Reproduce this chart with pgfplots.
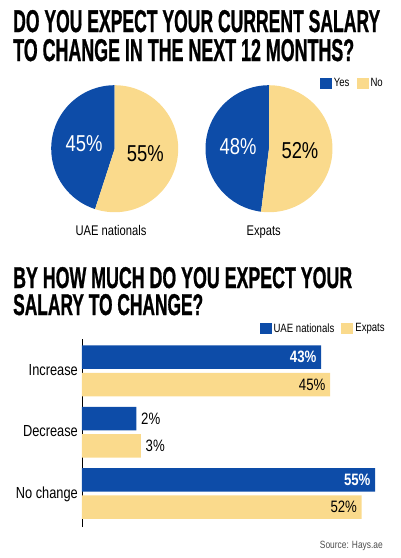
\documentclass[border=0pt]{standalone}
\usepackage{fontspec}
\setmainfont{Liberation Sans}[FakeStretch=0.8]
\newfontfamily\titlefont{Liberation Sans Bold}[FakeBold=1.2]
\usepackage{pgfplots}
\usepackage{pgfplotstable}
\pgfplotsset{compat=1.18}

\definecolor{bluec}{HTML}{0D4CA8}
\definecolor{yelc}{HTML}{FADA8C}

\pgfplotsset{sqlegend/.style={legend image code/.code={\fill[##1] (0pt,-5.5pt) rectangle (12pt,5.5pt);}}}

% share answering yes / no
\pgfplotstableread{
group yes no
UAE 45 55
Expats 48 52
}\pietable

% expected change; pos 2 = increase, 1 = decrease, 0 = no change
\pgfplotstableread{
pos nat exp
2 43 45
1 2 3
0 55 52
}\bartable

\newcommand\fs[1]{\fontsize{#1}{#1}\selectfont}
\newcommand\natlabel{\ifdim\pgfplotspointmeta pt<10pt\else\color{white}\bfseries\fi\pgfplotspointmeta\%}
\newcommand\explabel{\pgfplotspointmeta\%}

% pie: centre x, centre y, yes, no
\newcommand\drawpie[4]{%
  \fill[bluec] (axis cs:#1,#2) -- ++(90:63.5pt)
    arc[start angle=90, end angle={90+3.6*#3}, radius=63.5pt] -- cycle;
  \fill[yelc] (axis cs:#1,#2) -- ++({90+3.6*#3}:63.5pt)
    arc[start angle={90+3.6*#3}, end angle={90+3.6*(#3+#4)}, radius=63.5pt] -- cycle;
  \path (axis cs:#1,#2) ++({90+1.8*#3}:31pt) node[text=white,font=\fs{23}] {#3\%};
  \path (axis cs:#1,#2) ++({90+3.6*#3+1.8*#4}:31pt) node[text=black,font=\fs{23}] {#4\%};
}

\begin{document}
\begin{tikzpicture}
\path (0pt,0pt) rectangle (400pt,-558pt);

\node[anchor=base west,inner sep=0pt] at (13pt,-32pt) {\resizebox{367pt}{22pt}{\titlefont\fs{30}DO YOU EXPECT YOUR CURRENT SALARY}};
\node[anchor=base west,inner sep=0pt] at (13pt,-61pt) {\resizebox{341pt}{22pt}{\titlefont\fs{30}TO CHANGE IN THE NEXT 12 MONTHS?}};
\node[anchor=base west,inner sep=0pt] at (13pt,-288pt) {\resizebox{339pt}{21pt}{\titlefont\fs{30}BY HOW MUCH DO YOU EXPECT YOUR}};
\node[anchor=base west,inner sep=0pt] at (13pt,-315pt) {\resizebox{190pt}{21pt}{\titlefont\fs{30}SALARY TO CHANGE?}};

\pgfplotstablegetelem{0}{yes}\of\pietable\xdef\yesA{\pgfplotsretval}
\pgfplotstablegetelem{0}{no}\of\pietable\xdef\noA{\pgfplotsretval}
\pgfplotstablegetelem{1}{yes}\of\pietable\xdef\yesB{\pgfplotsretval}
\pgfplotstablegetelem{1}{no}\of\pietable\xdef\noB{\pgfplotsretval}

\begin{axis}[at={(0pt,-240pt)}, anchor=south west, scale only axis,
  width=400pt, height=170pt, xmin=0, xmax=400, ymin=-240, ymax=-70,
  hide axis, clip=false,
  legend style={at={(axis cs:385,-83.5)}, anchor=east, draw=none, fill=none,
    inner sep=0pt, font=\fs{12}, legend columns=2,
    /tikz/every even column/.append style={column sep=5pt}},
  legend cell align=left]
\addlegendimage{sqlegend, fill=bluec, draw=none}
\addlegendentry{Yes}
\addlegendimage{sqlegend, fill=yelc, draw=none}
\addlegendentry{No}
\drawpie{114.7}{-148.7}{\yesA}{\noA}
\drawpie{269}{-148.7}{\yesB}{\noB}
\node[anchor=base, font=\fs{14}] at (axis cs:111,-235) {UAE nationals};
\node[anchor=base, font=\fs{14}] at (axis cs:263.7,-235) {Expats};
\end{axis}

\begin{axis}[at={(82pt,-527pt)}, anchor=south west, scale only axis,
  width=308pt, height=188pt,
  xbar, bar width=23.5pt, enlargelimits=false,
  ymin=-0.546, ymax=2.52,
  x coord trafo/.code={\pgfmathparse{#1+10.1}},
  x coord inv trafo/.code={\pgfmathparse{#1-10.1}},
  xmin=-10.1, xmax=58.3,
  axis x line=none, axis y line*=left,
  axis line style={line width=0.8pt, black},
  xtick=\empty, ytick={0,1,2}, yticklabels={No change,Decrease,Increase},
  major tick length=0pt,
  yticklabel style={font=\fs{16}, anchor=base east, inner sep=0pt, xshift=-4pt, yshift=-4.5pt},
  clip=false,
  legend style={at={(0.99,1.056)}, anchor=east, draw=none, fill=none,
    inner sep=0pt, font=\fs{12}, legend columns=2,
    /tikz/every even column/.append style={column sep=5pt}},
  legend cell align=left,
  point meta=explicit symbolic,
  every node near coord/.append style={font=\fs{16.5}, inner sep=4.5pt},
  every node near coord/.append code={\ifdim\pgfplotspointmeta pt<10pt\pgfkeysalso{anchor=west}\else\pgfkeysalso{anchor=east}\fi}]
\addplot[fill=bluec, draw=none, bar shift=13.7pt, sqlegend,
  nodes near coords={\natlabel}] table[x=nat, y=pos, meta=nat] {\bartable};
\addlegendentry{UAE nationals}
\addplot[fill=yelc, draw=none, bar shift=-13.7pt, sqlegend,
  nodes near coords={\explabel}] table[x=exp, y=pos, meta=exp] {\bartable};
\addlegendentry{Expats}
\end{axis}

\node[anchor=base east, inner sep=0pt, text=black!70, font=\fs{10.5}] at (383pt,-548pt) {Source: Hays.ae};
\pgfresetboundingbox
\path[use as bounding box] (0pt,0pt) rectangle (400pt,-558pt);
\end{tikzpicture}
\end{document}
